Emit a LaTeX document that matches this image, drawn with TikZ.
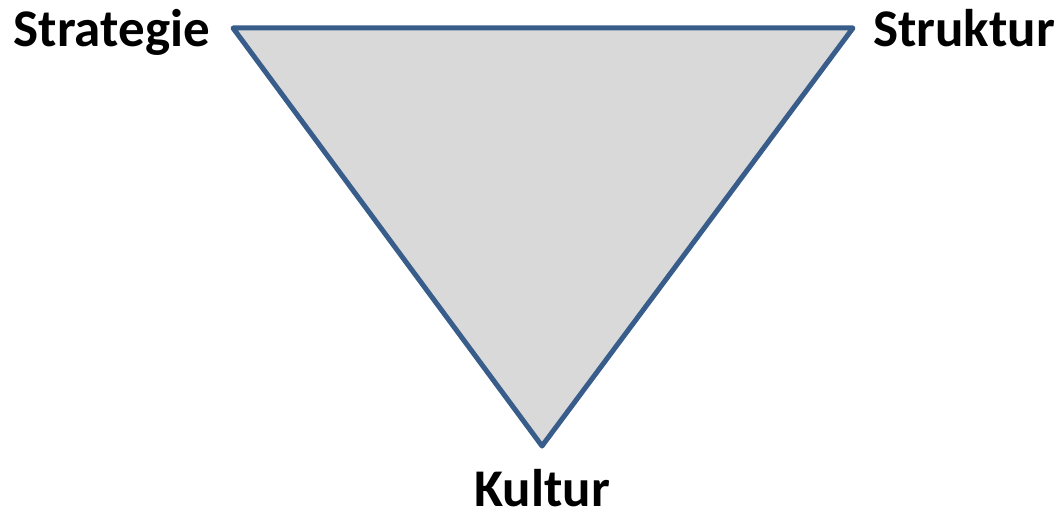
\documentclass[tikz,border=0pt]{standalone}
\usepackage{fontspec}
\setmainfont{Carlito}
\usepackage{tikz}
\usetikzlibrary{positioning}
\definecolor{edgeBlue}{RGB}{56, 93, 138}
\definecolor{faceGray}{RGB}{217, 217, 217}

\begin{document}
\begin{tikzpicture}[
    x=1pt, y=-1pt,
    corner/.style={inner sep=0pt, font=\fontsize{53}{60}\selectfont\bfseries},
    tri/.style={draw=edgeBlue, fill=faceGray, line width=5pt, line join=round},
  ]
    \useasboundingbox (0,0) rectangle (1059,511);

    % vertices of the triangle
    \coordinate (A) at (233,28);
    \coordinate (B) at (853,28);
    \coordinate (C) at (542,446);
    \draw[tri] (A) -- (B) -- (C) -- cycle;

    % labels
    \node[corner, anchor=base east] (strat) at (210,46) {Strategie};
    \node[corner, anchor=base west] (struk) at (873,46) {Struktur};
    \node[corner, anchor=base] (kult) at (542,506) {Kultur};
\end{tikzpicture}
\end{document}
